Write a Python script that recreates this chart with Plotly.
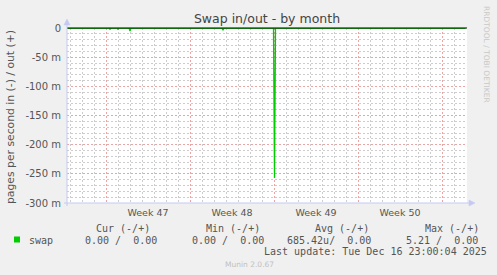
import plotly.graph_objects as go

# ---- data ----
x_start = "2025-11-13 18:00"
x_end = "2025-12-17 02:00"

in_times = ["2025-11-13 18:00",
            "2025-11-17 06:00", "2025-11-17 08:00", "2025-11-17 10:00",
            "2025-11-17 22:00", "2025-11-18 00:00", "2025-11-18 02:00",
            "2025-11-18 22:00", "2025-11-19 00:00", "2025-11-19 02:00",
            "2025-11-26 16:00", "2025-11-26 18:00", "2025-11-26 20:00",
            "2025-11-30 23:00", "2025-12-01 01:00", "2025-12-01 03:00",
            "2025-12-16 23:00"]
in_values = [0.0,
             0.0, -0.002, 0.0,
             0.0, -0.002, 0.0,
             0.0, -0.005, 0.0,
             0.0, -0.004, 0.0,
             0.0, -0.257, 0.0,
             0.0]
out_times = ["2025-11-13 18:00", "2025-12-16 23:00"]
out_values = [0.0, 0.0]

y_tickvals = [0, -0.05, -0.10, -0.15, -0.20, -0.25, -0.30]
y_ticktext = ["0", "-50 m", "-100 m", "-150 m", "-200 m", "-250 m", "-300 m"]
week_vals = ["2025-11-20 12:00", "2025-11-27 12:00", "2025-12-04 12:00", "2025-12-11 12:00"]
week_text = ["Week 47", "Week 48", "Week 49", "Week 50"]

legend_headers = ["Cur (-/+)", "Min (-/+)", "Avg (-/+)", "Max (-/+)"]
legend_values = ["0.00 /  0.00", "0.00 /  0.00", "685.42u/  0.00", "5.21 /  0.00"]
series_name = "swap"
last_update = "Last update: Tue Dec 16 23:00:04 2025"

# ---- layout geometry (pixels) ----
W, H = 497, 275
L, R, T, B = 67, 467, 28, 203

def px(x):
    return (x - L) / (R - L)

def py(y):
    return (B - y) / (B - T)

GREEN = "#00CC00"
AXIS = "#C4C8F4"
MAJ = "#EAA4A4"
MIN = "#CDCDCD"
DASH = "2px,2px"

fig = go.Figure()
fig.add_trace(go.Scatter(x=out_times, y=out_values, mode="lines",
                         line=dict(color=GREEN, width=1), hoverinfo="skip"))
fig.add_trace(go.Scatter(x=in_times, y=in_values, mode="lines",
                         line=dict(color=GREEN, width=1.3), hoverinfo="skip"))
# invisible trace for the label axis
fig.add_trace(go.Scatter(x=[x_start, x_end], y=[None, None], xaxis="x2",
                         mode="lines", showlegend=False, hoverinfo="skip"))

fig.update_layout(
    width=W, height=H,
    margin=dict(l=L, r=W - R, t=T, b=H - B, pad=0),
    paper_bgcolor="#F0F0F0", plot_bgcolor="#FFFFFF",
    showlegend=False,
    font=dict(family="DejaVu Sans", size=10, color="#555555"),
    title=dict(text="Swap in/out - by month", x=0.5, xref="paper", xanchor="center",
               y=1 - 19 / H, yref="container", yanchor="middle",
               font=dict(family="DejaVu Sans", size=12.5, color="#444444")),
    xaxis=dict(type="date", range=[x_start, x_end], showticklabels=False,
               tick0="2025-11-17", dtick=7 * 86400000, ticks="",
               showgrid=True, gridcolor=MAJ, griddash=DASH, gridwidth=1,
               minor=dict(tick0="2025-11-17", dtick=86400000, showgrid=True,
                          gridcolor=MIN, griddash=DASH, gridwidth=1),
               zeroline=False, showline=False, fixedrange=True),
    xaxis2=dict(type="date", range=[x_start, x_end], overlaying="x", side="bottom",
                tickmode="array", tickvals=week_vals, ticktext=week_text,
                showgrid=False, ticks="", zeroline=False, showline=False,
                tickfont=dict(size=9.5, color="#555555"), ticklabelstandoff=2),
    yaxis=dict(range=[-0.3, 0], tickmode="array", tickvals=y_tickvals, ticktext=y_ticktext,
               showgrid=True, gridcolor=MAJ, griddash=DASH, gridwidth=1,
               minor=dict(tick0=0, dtick=0.01, showgrid=True, gridcolor=MIN,
                          griddash=DASH, gridwidth=1),
               zeroline=False, showline=False, ticks="", ticklabelstandoff=5,
               tickfont=dict(size=10, color="#555555")),
)

shapes = []
# zero line at top
shapes.append(dict(type="line", xref="paper", yref="paper", x0=0, x1=1, y0=1, y1=1,
                   line=dict(color="#000000", width=1), layer="above"))
# axes with arrows
shapes.append(dict(type="line", xref="paper", yref="paper", x0=px(67), x1=px(67),
                   y0=py(206), y1=py(24), line=dict(color=AXIS, width=1), layer="above"))
shapes.append(dict(type="path", xref="paper", yref="paper",
                   path=f"M {px(64)} {py(25)} L {px(70)} {py(25)} L {px(67)} {py(19)} Z",
                   fillcolor=AXIS, line=dict(color=AXIS, width=0.5), layer="above"))
shapes.append(dict(type="line", xref="paper", yref="paper", x0=px(64), x1=px(470),
                   y0=py(203), y1=py(203), line=dict(color=AXIS, width=1), layer="above"))
shapes.append(dict(type="path", xref="paper", yref="paper",
                   path=f"M {px(469)} {py(200)} L {px(469)} {py(206)} L {px(475)} {py(203)} Z",
                   fillcolor=AXIS, line=dict(color=AXIS, width=0.5), layer="above"))
# legend colour box
shapes.append(dict(type="rect", xref="paper", yref="paper", x0=px(14), x1=px(20),
                   y0=py(242.5), y1=py(236.5), fillcolor=GREEN, line=dict(width=0)))
fig.update_layout(shapes=shapes)

MONO = "DejaVu Sans Mono"
ann = []
def text(x, y, s, size=10, color="#555555", family=MONO, anchor="left", angle=0):
    ann.append(dict(x=px(x), y=py(y), xref="paper", yref="paper", text=s,
                    showarrow=False, xanchor=anchor, yanchor="middle", textangle=angle,
                    font=dict(family=family, size=size, color=color)))

text(10, 117, "pages per second in (-) / out (+)", size=10.8, family="DejaVu Sans",
     anchor="center", angle=-90)
text(487, 54, "RRDTOOL / TOBI OETIKER", size=7.5, color="#C8C8C8",
     family="DejaVu Sans", anchor="center", angle=90)
for hx, h in zip([94, 204, 313, 423], legend_headers):
    text(hx, 228, h)
text(27, 240, series_name)
for vx, v in zip([83, 190, 285, 404], legend_values):
    text(vx, 240, v)
text(262, 251.5, last_update)
text(223, 264.5, "Munin 2.0.67", size=7.5, color="#C0C0C0", family="DejaVu Sans")
fig.update_layout(annotations=ann)

fig.write_html("out.html")
